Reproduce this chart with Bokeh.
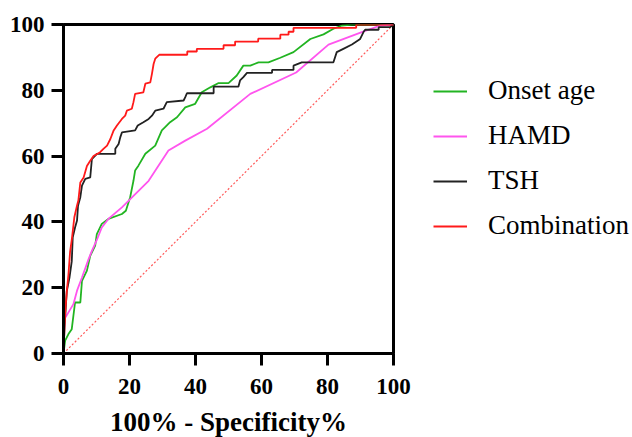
from bokeh.plotting import figure
from bokeh.models import Range1d, Legend, LegendItem
from bokeh.embed import file_html
from bokeh.resources import INLINE

# ---- data ----
ticks = [0, 20, 40, 60, 80, 100]
x_title = "100% - Specificity%"

onset_x = [0, 0.5, 1.5, 2.5, 3.5, 5.1, 5.6, 7.1, 8.1, 9.6, 10.1, 11.6, 13.6, 17.7, 18.9, 20.2, 21.2, 21.7,
           22.7, 24.8, 27.8, 29.8, 30.8, 32.3, 34.4, 36.9, 39.9, 41.9, 44.5, 47.0, 50.0, 52.5, 54.5, 56.6,
           59.1, 62.1, 65.7, 69.7, 74.8, 78.8, 81.8, 84.4, 87.4, 100]
onset_y = [0, 3.9, 5.9, 7.4, 15.5, 15.5, 22.1, 25.2, 29.7, 32.8, 36.3, 39.4, 40.9, 42.4, 43.4, 47.5, 52.5, 55.6,
           57.1, 60.7, 63.2, 67.8, 68.8, 70.3, 71.8, 74.8, 75.9, 79.4, 80.9, 82.2, 82.2, 84.5, 87.5, 87.5,
           88.5, 88.5, 89.9, 91.6, 95.6, 97.0, 98.7, 99.7, 100, 100]

hamd_x = [0, 0.3, 1.5, 3.0, 4.1, 5.6, 7.6, 8.6, 10.1, 11.6, 13.6, 17.7, 25.8, 31.8, 36.9, 43.5, 56.6, 70.5,
          80.3, 90.4, 96.0, 100]
hamd_y = [0, 10.5, 12.5, 15.0, 19.1, 23.1, 28.7, 31.2, 34.5, 38.3, 40.9, 44.4, 52.5, 61.7, 64.7, 68.3, 78.9, 85.4,
          93.9, 97.7, 99.7, 100]

tsh_x = [0, 0.3, 1.0, 1.8, 2.5, 2.8, 3.5, 4.1, 4.4, 5.1, 5.6, 6.6, 8.1, 8.6, 10.1, 15.7, 15.7, 16.7, 17.2, 17.7,
         21.7, 22.5, 24.2, 25.8, 26.8, 27.8, 30.3, 31.3, 36.4, 36.9, 37.4, 45.5, 45.5, 53.0, 53.5, 54.5, 55.6,
         63.2, 63.2, 69.7, 69.7, 72.2, 81.8, 82.8, 84.8, 87.4, 89.9, 90.9, 91.4, 95.5, 95.5, 99.0, 100]
tsh_y = [0, 7.9, 19.0, 23.0, 28.0, 35.3, 38.3, 40.4, 44.9, 47.5, 51.0, 53.1, 53.5, 59.1, 60.7, 60.7, 62.2, 63.7,
         65.7, 67.2, 67.8, 69.3, 70.3, 71.3, 72.3, 73.8, 74.4, 76.4, 76.9, 77.9, 79.1, 79.1, 81.1, 81.1, 83.0,
         84.0, 85.3, 85.3, 86.2, 86.2, 87.5, 88.5, 88.5, 91.6, 92.6, 93.9, 95.6, 97.7, 98.4, 98.4, 99.2, 99.2, 100]

comb_x = [0, 0.3, 0.5, 1.0, 1.5, 2.0, 2.5, 3.3, 4.1, 4.5, 5.1, 6.1, 7.1, 8.1, 9.1, 11.1, 12.1, 13.2, 14.2,
          15.2, 16.2, 17.7, 18.7, 19.2, 20.7, 21.2, 21.7, 24.2, 24.8, 26.3, 26.8, 27.3, 27.8, 29.0, 37.5, 37.5,
          40.4, 40.4, 48.5, 48.5, 52.0, 52.0, 59.0, 59.0, 65.7, 65.7, 68.2, 68.2, 69.7, 69.7, 88.7, 88.7, 100]
comb_y = [0, 8.0, 12.0, 19.0, 24.0, 31.0, 34.5, 41.5, 45.0, 46.5, 52.0, 53.5, 57.0, 58.6, 60.0, 61.2, 62.2, 63.2,
          65.2, 67.8, 69.3, 71.3, 72.3, 73.8, 74.4, 76.4, 78.9, 79.4, 82.0, 82.4, 85.0, 88.0, 89.6, 90.8, 90.8,
          91.8, 91.8, 92.6, 92.6, 93.7, 93.7, 94.8, 94.8, 95.7, 95.7, 96.9, 96.9, 97.8, 97.8, 99.0, 99.0, 100, 100]

ref_x = [0, 100]
ref_y = [0, 100]

labels = ["Onset age", "HAMD", "TSH", "Combination"]
colors = ["#22b422", "#ff55ee", "#222222", "#ff1a1a"]

SERIF = "Liberation Serif"

p = figure(frame_width=330, frame_height=329,
           x_range=Range1d(0, 100), y_range=Range1d(0, 100),
           output_backend="svg", toolbar_location=None,
           min_border_left=63, min_border_top=24, min_border_right=239, min_border_bottom=84)

p.grid.visible = False
p.outline_line_color = "black"
p.outline_line_width = 3
p.outline_line_alpha = 1

p.line(ref_x, ref_y, line_color="#ff5a5a", line_width=1.2, line_dash="2 2")

r_on = p.line(onset_x, onset_y, line_color=colors[0], line_width=1.8)
r_ha = p.line(hamd_x, hamd_y, line_color=colors[1], line_width=1.8)
r_ts = p.line(tsh_x, tsh_y, line_color=colors[2], line_width=1.8)
r_co = p.line(comb_x, comb_y, line_color=colors[3], line_width=1.8)

for ax in (p.xaxis[0], p.yaxis[0]):
    ax.ticker = ticks
    ax.axis_line_width = 3
    ax.major_tick_line_width = 3
    ax.major_tick_out = 12
    ax.major_tick_in = 0
    ax.minor_tick_out = 0
    ax.minor_tick_in = 0
    ax.major_label_text_font = SERIF
    ax.major_label_text_font_style = "bold"
    ax.major_label_text_font_size = "23px"
    ax.major_label_text_color = "black"
    ax.major_label_text_line_height = 1.0
    ax.axis_line_color = "black"
    ax.major_tick_line_color = "black"

p.yaxis.major_label_standoff = 7
p.xaxis.major_label_standoff = 13
p.xaxis.axis_label = x_title
p.xaxis.axis_label_text_font = SERIF
p.xaxis.axis_label_text_font_style = "bold"
p.xaxis.axis_label_text_font_size = "27px"
p.xaxis.axis_label_text_color = "black"
p.xaxis.axis_label_text_line_height = 1.0
p.xaxis.axis_label_standoff = 10

legend = Legend(items=[LegendItem(label=labels[0], renderers=[r_on]),
                       LegendItem(label=labels[1], renderers=[r_ha]),
                       LegendItem(label=labels[2], renderers=[r_ts]),
                       LegendItem(label=labels[3], renderers=[r_co])],
                location=(40, 112),
                label_text_font=SERIF, label_text_font_size="27px",
                label_text_color="black",
                glyph_width=34, glyph_height=20, label_standoff=21,
                spacing=14, padding=0, margin=0,
                border_line_color=None, background_fill_alpha=0)
p.add_layout(legend, "right")

open("out.html", "w").write(file_html(p, INLINE))
